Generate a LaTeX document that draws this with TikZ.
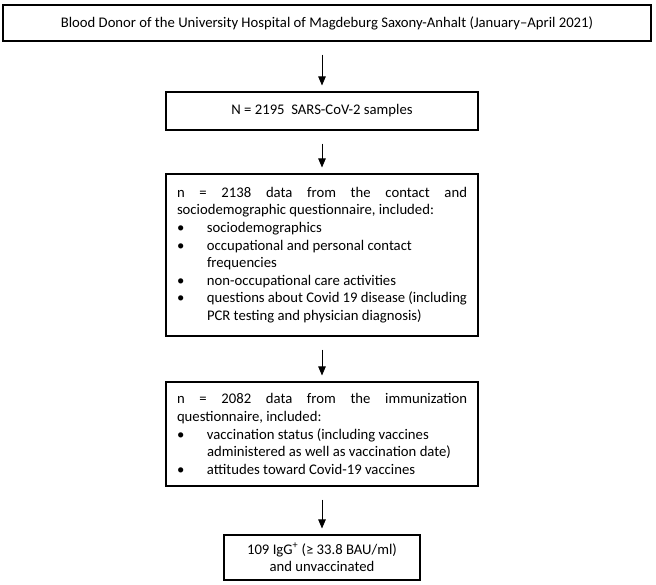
\documentclass[tikz,border=0pt]{standalone}
\usepackage{fontspec}
\setmainfont{Carlito}
\usetikzlibrary{arrows.meta}
\newcommand{\bul}{\makebox[30pt][l]{\textbullet}}
\newcommand{\cont}{\hspace*{30pt}}
\newcommand{\fixsp}{\spaceskip=0pt\xspaceskip=0pt\hyphenpenalty=10000\relax}
\begin{document}
\begin{tikzpicture}[x=1pt,y=-1pt,
  box/.style={draw=black, line width=1.1pt, inner sep=0pt,
    font=\fontsize{14.7}{17.6}\selectfont},
  listbox/.style={box, text width=290pt, align=left, inner xsep=11pt},
  arr/.style={line width=0.9pt, -{Triangle[length=9pt,width=7.5pt]},
    shorten <=13pt, shorten >=6pt}]
\useasboundingbox (0,0) rectangle (656,584);
\node[box, minimum width=648, minimum height=36] (b1) at (327,23)
  {Blood Donor of the University Hospital of Magdeburg Saxony-Anhalt (January–April 2021)};
\node[box, minimum width=312, minimum height=38] (b2) at (322,111)
  {N = 2195\ \ SARS-CoV-2 samples};
\node[listbox, minimum height=162] (b3) at (322,255)
  {\fixsp
   \makebox[290pt][s]{n\hfill=\hfill2138\hfill data\hfill from\hfill the\hfill contact\hfill and}\\
   sociodemographic questionnaire, included:\\
   \bul sociodemographics\\
   \bul occupational and personal contact\\
   \cont frequencies\\
   \bul non-occupational care activities\\
   \bul questions about Covid 19 disease (including\\
   \cont PCR testing and physician diagnosis)};
\node[listbox, minimum height=104] (b4) at (322,434)
  {\fixsp
   \makebox[290pt][s]{n\hfill=\hfill2082\hfill data\hfill from\hfill the\hfill immunization}\\
   questionnaire, included:\\
   \bul vaccination status (including vaccines\\
   \cont administered as well as vaccination date)\\
   \bul attitudes toward Covid-19 vaccines};
\node[box, align=center, minimum width=196, minimum height=45] (b5) at (322,557.5)
  {\fixsp 109 IgG\textsuperscript{+} (≥ 33.8 BAU/ml)\\and unvaccinated};
\draw[arr] (b2.north |- b1.south) -- (b2.north);
\draw[arr] (b2.south) -- (b3.north);
\draw[arr] (b3.south) -- (b4.north);
\draw[arr] (b4.south) -- (b5.north);
\end{tikzpicture}
\end{document}
